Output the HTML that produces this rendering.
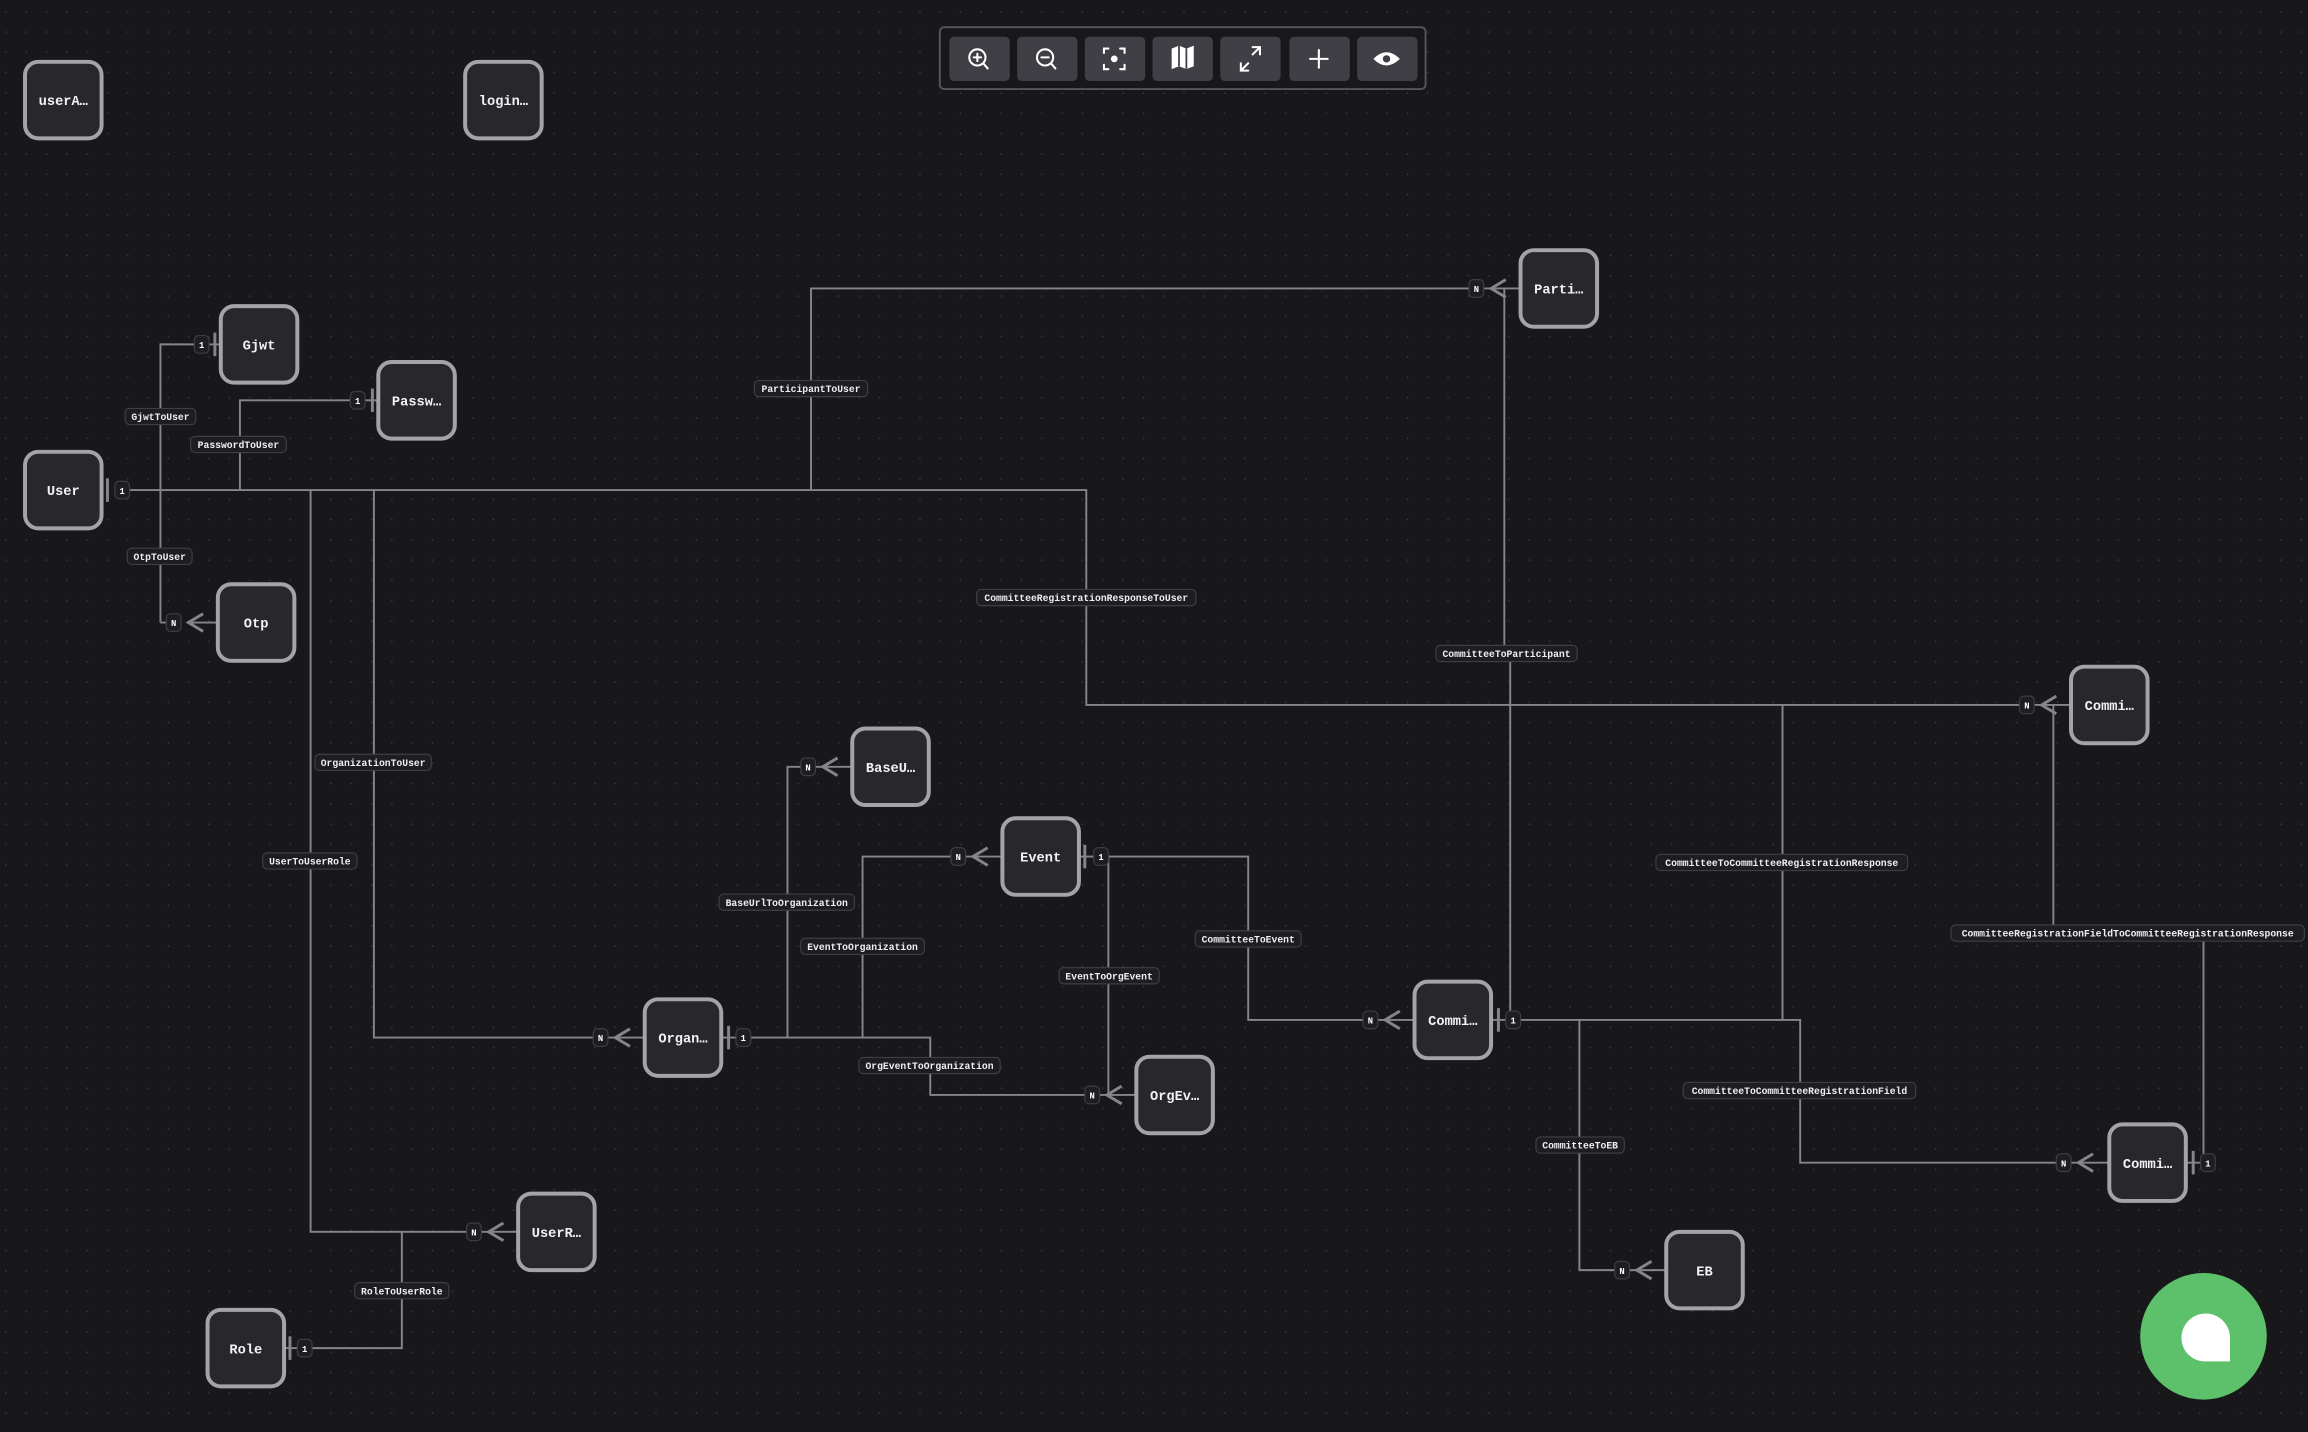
<!DOCTYPE html>
<html><head><meta charset="utf-8"><style>
html,body{margin:0;padding:0;background:#18181b;overflow:hidden}
svg{display:block}
text{font-family:"Liberation Mono",monospace}
</style></head><body>
<svg width="2308" height="1432" viewBox="0 0 1568 973" preserveAspectRatio="none" xmlns="http://www.w3.org/2000/svg">
<defs>
<pattern id="dots" x="3" y="7" width="13.8" height="13.8" patternUnits="userSpaceOnUse">
<circle cx="1" cy="1" r="0.55" fill="#3c3c42"/>
</pattern>
</defs>
<rect width="1568" height="973" fill="#18181b"/>
<rect width="1568" height="973" fill="url(#dots)"/>

<g fill="none" stroke="#86858b" stroke-width="1.3">
<polyline points="88,333 551,333"/>
<polyline points="109,423 109,234 137,234"/>
<line x1="142" y1="234" x2="150" y2="234"/>
<polyline points="163,333 163,272 243,272"/>
<line x1="248" y1="272" x2="257" y2="272"/>
<polyline points="109,423 118,423"/>
<line x1="128" y1="423" x2="148" y2="423"/>
<polyline points="551,333 551,196 1003,196"/>
<line x1="1008" y1="196" x2="1033" y2="196"/>
<polyline points="551,333 738,333 738,479 1377,479"/>
<line x1="1382" y1="479" x2="1407" y2="479"/>
<polyline points="254,333 254,705 408,705"/>
<line x1="413" y1="705" x2="438" y2="705"/>
<polyline points="211,333 211,837 322,837"/>
<line x1="327" y1="837" x2="352" y2="837"/>
<polyline points="212,916 273,916 273,837"/>
<line x1="193" y1="916" x2="202" y2="916"/>
<line x1="490" y1="705" x2="500" y2="705"/>
<polyline points="510,705 632,705 632,744 742,744"/>
<line x1="747" y1="744" x2="772" y2="744"/>
<polyline points="535,705 535,521 549,521"/>
<line x1="554" y1="521" x2="579" y2="521"/>
<polyline points="586,705 586,582 651,582"/>
<line x1="656" y1="582" x2="681" y2="582"/>
<line x1="733" y1="582" x2="743" y2="582"/>
<polyline points="753,582 848,582 848,693 931,693"/>
<line x1="936" y1="693" x2="961" y2="693"/>
<polyline points="753,582 753,744"/>
<line x1="1013" y1="693" x2="1023" y2="693"/>
<polyline points="1033,693 1223,693 1223,790 1402,790"/>
<line x1="1407" y1="790" x2="1432" y2="790"/>
<polyline points="1022,196 1022,444"/>
<polyline points="1026,444 1026,693"/>
<polyline points="1211,693 1211,479"/>
<polyline points="1073,693 1073,863 1102,863"/>
<line x1="1107" y1="863" x2="1132" y2="863"/>
<line x1="1485" y1="790" x2="1495" y2="790"/>
<polyline points="1497,790 1497,635 1395,635 1395,479"/>
</g>

<g fill="none" stroke="#86858b" stroke-width="2">
<polyline points="138,417 128,423 138,429"/>
<polyline points="1023,190 1013,196 1023,202"/>
<polyline points="1397,473 1387,479 1397,485"/>
<polyline points="428,699 418,705 428,711"/>
<polyline points="342,831 332,837 342,843"/>
<polyline points="762,738 752,744 762,750"/>
<polyline points="569,515 559,521 569,527"/>
<polyline points="671,576 661,582 671,588"/>
<polyline points="951,687 941,693 951,699"/>
<polyline points="1122,857 1112,863 1122,869"/>
<polyline points="1422,784 1412,790 1422,796"/>
</g>
<g stroke="#86858b" stroke-width="2">
<line x1="73" y1="325" x2="73" y2="341"/>
<line x1="146" y1="226" x2="146" y2="242"/>
<line x1="253" y1="264" x2="253" y2="280"/>
<line x1="197" y1="908" x2="197" y2="924"/>
<line x1="495" y1="697" x2="495" y2="713"/>
<line x1="737" y1="574" x2="737" y2="590"/>
<line x1="1018" y1="685" x2="1018" y2="701"/>
<line x1="1490" y1="782" x2="1490" y2="798"/>
</g>

<g font-size="6" fill="#fff" text-anchor="middle" font-weight="bold">
<g fill="#1e1e21" stroke="#3e3e44" stroke-width="0.8">
<rect x="78" y="327" width="10" height="12" rx="3"/>
<rect x="132" y="228" width="10" height="12" rx="3"/>
<rect x="238" y="266" width="10" height="12" rx="3"/>
<rect x="113" y="417" width="10" height="12" rx="3"/>
<rect x="998" y="190" width="10" height="12" rx="3"/>
<rect x="1372" y="473" width="10" height="12" rx="3"/>
<rect x="403" y="699" width="10" height="12" rx="3"/>
<rect x="317" y="831" width="10" height="12" rx="3"/>
<rect x="202" y="910" width="10" height="12" rx="3"/>
<rect x="500" y="699" width="10" height="12" rx="3"/>
<rect x="737" y="738" width="10" height="12" rx="3"/>
<rect x="544" y="515" width="10" height="12" rx="3"/>
<rect x="646" y="576" width="10" height="12" rx="3"/>
<rect x="743" y="576" width="10" height="12" rx="3"/>
<rect x="926" y="687" width="10" height="12" rx="3"/>
<rect x="1023" y="687" width="10" height="12" rx="3"/>
<rect x="1097" y="857" width="10" height="12" rx="3"/>
<rect x="1397" y="784" width="10" height="12" rx="3"/>
<rect x="1495" y="784" width="10" height="12" rx="3"/>
</g>
<text x="83" y="335.5">1</text>
<text x="137" y="236.5">1</text>
<text x="243" y="274.5">1</text>
<text x="118" y="425.5">N</text>
<text x="1003" y="198.5">N</text>
<text x="1377" y="481.5">N</text>
<text x="408" y="707.5">N</text>
<text x="322" y="839.5">N</text>
<text x="207" y="918.5">1</text>
<text x="505" y="707.5">1</text>
<text x="742" y="746.5">N</text>
<text x="549" y="523.5">N</text>
<text x="651" y="584.5">N</text>
<text x="748" y="584.5">1</text>
<text x="931" y="695.5">N</text>
<text x="1028" y="695.5">1</text>
<text x="1102" y="865.5">N</text>
<text x="1402" y="792.5">N</text>
<text x="1500" y="792.5">1</text>
</g>

<g font-size="6.6" fill="#f0f0f2" text-anchor="middle" font-weight="bold">
<g fill="#1e1e21" stroke="#3e3e44" stroke-width="0.8">
<rect x="85" y="277.5" width="48" height="11" rx="3"/>
<rect x="129.5" y="296.5" width="65" height="11" rx="3"/>
<rect x="86.5" y="372.5" width="44" height="11" rx="3"/>
<rect x="512.5" y="258.5" width="77" height="11" rx="3"/>
<rect x="663.5" y="400.5" width="149" height="11" rx="3"/>
<rect x="214" y="512.5" width="79" height="11" rx="3"/>
<rect x="178.5" y="579.5" width="64" height="11" rx="3"/>
<rect x="241" y="871.5" width="64" height="11" rx="3"/>
<rect x="488.5" y="607.5" width="92" height="11" rx="3"/>
<rect x="544" y="637.5" width="84" height="11" rx="3"/>
<rect x="583.5" y="718.5" width="96" height="11" rx="3"/>
<rect x="812" y="632.5" width="72" height="11" rx="3"/>
<rect x="719.5" y="657.5" width="68" height="11" rx="3"/>
<rect x="975.5" y="438.5" width="96" height="11" rx="3"/>
<rect x="1125" y="580.5" width="171" height="11" rx="3"/>
<rect x="1043.5" y="772.5" width="60" height="11" rx="3"/>
<rect x="1143.5" y="735.5" width="158" height="11" rx="3"/>
<rect x="1325.5" y="628.5" width="240" height="11" rx="3"/>
</g>
<text x="109" y="285.5">GjwtToUser</text>
<text x="162" y="304.5">PasswordToUser</text>
<text x="108.5" y="380.5">OtpToUser</text>
<text x="551" y="266.5">ParticipantToUser</text>
<text x="738" y="408.5">CommitteeRegistrationResponseToUser</text>
<text x="253.5" y="520.5">OrganizationToUser</text>
<text x="210.5" y="587.5">UserToUserRole</text>
<text x="273" y="879.5">RoleToUserRole</text>
<text x="534.5" y="615.5">BaseUrlToOrganization</text>
<text x="586" y="645.5">EventToOrganization</text>
<text x="631.5" y="726.5">OrgEventToOrganization</text>
<text x="848" y="640.5">CommitteeToEvent</text>
<text x="753.5" y="665.5">EventToOrgEvent</text>
<text x="1023.5" y="446.5">CommitteeToParticipant</text>
<text x="1210.5" y="588.5">CommitteeToCommitteeRegistrationResponse</text>
<text x="1073.5" y="780.5">CommitteeToEB</text>
<text x="1222.5" y="743.5">CommitteeToCommitteeRegistrationField</text>
<text x="1445.5" y="636.5">CommitteeRegistrationFieldToCommitteeRegistrationResponse</text>
</g>

<g fill="#28282c" stroke="#a4a3a9" stroke-width="2.7">
<rect x="17" y="42" width="52" height="52" rx="9"/>
<rect x="316" y="42" width="52" height="52" rx="9"/>
<rect x="150" y="208" width="52" height="52" rx="9"/>
<rect x="257" y="246" width="52" height="52" rx="9"/>
<rect x="17" y="307" width="52" height="52" rx="9"/>
<rect x="148" y="397" width="52" height="52" rx="9"/>
<rect x="1033" y="170" width="52" height="52" rx="9"/>
<rect x="1407" y="453" width="52" height="52" rx="9"/>
<rect x="579" y="495" width="52" height="52" rx="9"/>
<rect x="681" y="556" width="52" height="52" rx="9"/>
<rect x="438" y="679" width="52" height="52" rx="9"/>
<rect x="772" y="718" width="52" height="52" rx="9"/>
<rect x="961" y="667" width="52" height="52" rx="9"/>
<rect x="1433" y="764" width="52" height="52" rx="9"/>
<rect x="352" y="811" width="52" height="52" rx="9"/>
<rect x="141" y="890" width="52" height="52" rx="9"/>
<rect x="1132" y="837" width="52" height="52" rx="9"/>
</g>
<g font-size="9.3" fill="#f2f2f4" text-anchor="middle" font-weight="bold">
<text x="43" y="71.5">userA…</text>
<text x="342" y="71.5">login…</text>
<text x="176" y="237.5">Gjwt</text>
<text x="283" y="275.5">Passw…</text>
<text x="43" y="336.5">User</text>
<text x="174" y="426.5">Otp</text>
<text x="1059" y="199.5">Parti…</text>
<text x="1433" y="482.5">Commi…</text>
<text x="605" y="524.5">BaseU…</text>
<text x="707" y="585.5">Event</text>
<text x="464" y="708.5">Organ…</text>
<text x="798" y="747.5">OrgEv…</text>
<text x="987" y="696.5">Commi…</text>
<text x="1459" y="793.5">Commi…</text>
<text x="378" y="840.5">UserR…</text>
<text x="167" y="919.5">Role</text>
<text x="1158" y="866.5">EB</text>
</g>

<rect x="638.5" y="18.5" width="330" height="42" rx="3" fill="#18181b" stroke="#55555b" stroke-width="1.3"/>
<g fill="#3f3f45">
<rect x="645" y="25" width="41" height="30" rx="3"/>
<rect x="691" y="25" width="41" height="30" rx="3"/>
<rect x="737" y="25" width="41" height="30" rx="3"/>
<rect x="783" y="25" width="41" height="30" rx="3"/>
<rect x="829" y="25" width="41" height="30" rx="3"/>
<rect x="876" y="25" width="41" height="30" rx="3"/>
<rect x="922" y="25" width="41" height="30" rx="3"/>
</g>
<g fill="none" stroke="#fff" stroke-width="1.4" stroke-linecap="round">
<circle cx="664" cy="39" r="5.5"/><line x1="668" y1="43" x2="671" y2="46.5"/><line x1="661.5" y1="39" x2="666.5" y2="39"/><line x1="664" y1="36.5" x2="664" y2="41.5"/>
<circle cx="710" cy="39" r="5.5"/><line x1="714" y1="43" x2="717" y2="46.5"/><line x1="707.5" y1="39" x2="712.5" y2="39"/>
<path d="M750,36 v-3 h3 M761,33 h3 v3 M764,44 v3 h-3 M753,47 h-3 v-3"/>
<path d="M851,32 h5 v5 M856,32 l-5,5 M843,43 v5 h5 M843,48 l5,-5"/>
<line x1="896" y1="34" x2="896" y2="46"/><line x1="890" y1="40" x2="902" y2="40"/>
</g>
<circle cx="757" cy="40" r="2.3" fill="#fff"/>
<path d="M796,33 l5,-2 l5,2 l5,-2 v14 l-5,2 l-5,-2 l-5,2 z" fill="#fff"/>
<path d="M801,31 v14 M806,33 v14" stroke="#3f3f45" stroke-width="1.2"/>
<path d="M933,40 q9,-9 18,0 q-9,9 -18,0 z" fill="#fff"/>
<circle cx="942" cy="40" r="2.5" fill="#3f3f45"/>

<circle cx="1497" cy="908" r="43" fill="#5cc16a"/>
<path d="M1515,925 h-17 a16,16 0 0 1 -16,-16 a16,16 0 0 1 33,0 z" fill="#fff"/>
</svg>
</body></html>
